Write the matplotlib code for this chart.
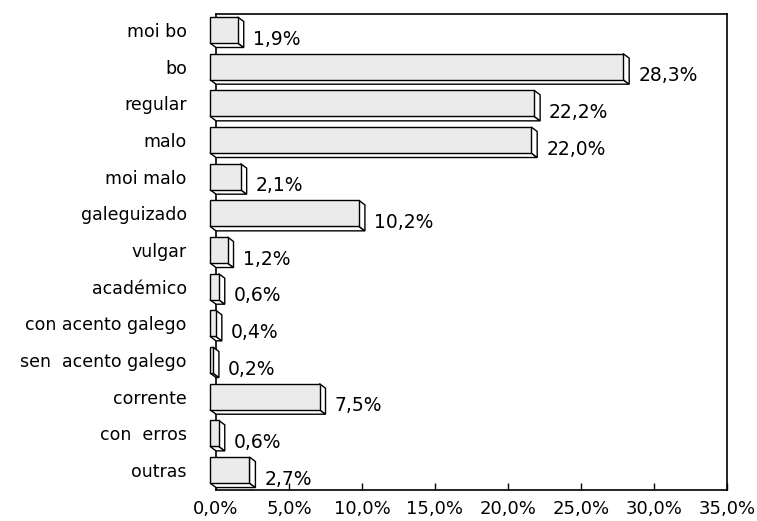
import numpy as np
import matplotlib.pyplot as plt
from matplotlib.patches import Polygon

plt.rcParams['font.family'] = ['DejaVu Sans']

categories = ["moi bo", "bo", "regular", "malo", "moi malo", "galeguizado",
              "vulgar", "académico", "con acento galego", "sen  acento galego",
              "corrente", "con  erros", "outras"]
values = [1.9, 28.3, 22.2, 22.0, 2.1, 10.2, 1.2, 0.6, 0.4, 0.2, 7.5, 0.6, 2.7]
xticks = [0, 5, 10, 15, 20, 25, 30, 35]

W, H = 757, 521
fig = plt.figure(figsize=(W / 100, H / 100), dpi=100)
ax = fig.add_axes([216 / W, (H - 490) / H, (727 - 216) / W, (490 - 14) / H])

px_x = (727 - 216) / 35.0    # pixels per percent
px_y = 36.67                 # pixels per category
dx = 6 / px_x
dy = 4.5 / px_y
h = 26 / px_y

front_col = '#ebebeb'
for i, v in enumerate(values):
    top, bot = i - h / 2, i + h / 2
    faces = [
        # bottom face
        [(-dx, bot), (v - dx, bot), (v, bot + dy), (0, bot + dy)],
        # right side
        [(v - dx, top), (v, top + dy), (v, bot + dy), (v - dx, bot)],
        # front face
        [(-dx, top), (v - dx, top), (v - dx, bot), (-dx, bot)],
    ]
    for k, f in enumerate(faces):
        fc = front_col if k == 2 else 'white'
        ax.add_patch(Polygon(f, closed=True, facecolor=fc, edgecolor='black',
                             linewidth=1.0, clip_on=False, zorder=3))
    ax.text(v + 9 / px_x, i + 9 / px_y, f"{v:.1f}%".replace('.', ','),
            fontsize=13.5, va='center', ha='left')

ax.set_xlim(0, 35)
ax.set_ylim((490 - 30) / px_y, (14 - 30) / px_y)
ax.set_xticks(xticks)
ax.set_xticklabels([f"{t:.1f}%".replace('.', ',') for t in xticks], fontsize=13)
ax.tick_params(axis='x', direction='in', length=5, width=1.0, pad=7)
ax.set_yticks(range(len(categories)))
ax.set_yticklabels(categories, fontsize=12.5)
ax.tick_params(axis='y', length=0, pad=21)
for s in ax.spines.values():
    s.set_linewidth(1.2)
    s.set_color('black')

fig.savefig('out.png', dpi=100)
